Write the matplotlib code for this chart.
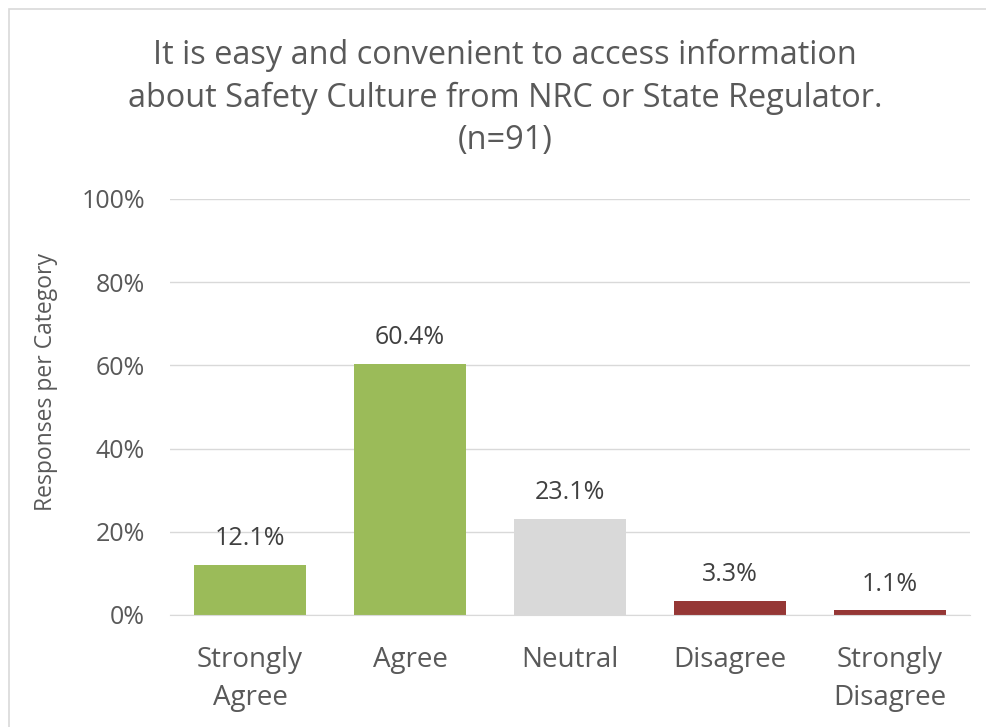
import matplotlib.pyplot as plt
from matplotlib.patches import Rectangle

categories = ['Strongly\nAgree', 'Agree', 'Neutral', 'Disagree', 'Strongly\nDisagree']
shares = [12.1, 60.4, 23.1, 3.3, 1.1]
bar_colors = ['#9BBB59', '#9BBB59', '#D9D9D9', '#953735', '#953735']
yticks = [0, 20, 40, 60, 80, 100]

text_color = '#595959'
plt.rcParams['font.family'] = ['Open Sans', 'DejaVu Sans']

fig = plt.figure(figsize=(9.86, 7.27), dpi=100)
ax = fig.add_axes([170 / 986, 112 / 727, 800 / 986, 416 / 727])

x = range(len(categories))
ax.bar(x, shares, width=0.706, color=bar_colors, zorder=2)

# value labels above each bar
for i, v in enumerate(shares):
    ax.annotate(f'{v:.1f}%', (i, v), xytext=(0, 10), textcoords='offset points',
                ha='center', va='bottom', fontsize=18, color='#404040')

ax.set_xlim(-0.5, len(categories) - 0.5)
ax.set_ylim(0, 100)
ax.set_yticks(yticks)
ax.set_yticklabels([f'{t}%' for t in yticks])
ax.set_xticks(list(x))
ax.set_xticklabels(categories, fontsize=20, color=text_color, linespacing=1.5)
ax.tick_params(axis='y', labelsize=18, labelcolor=text_color, length=0, pad=18)
ax.tick_params(axis='x', length=0, pad=22)
ax.yaxis.grid(True, color='#D9D9D9', linewidth=1, zorder=0)
for side in ['top', 'right', 'left']:
    ax.spines[side].set_visible(False)
ax.spines['bottom'].set_color('#D9D9D9')

ax.set_ylabel('Responses per Category', fontsize=16.5, color=text_color)
ax.yaxis.set_label_coords(-0.14, 0.56)

fig.text(505 / 986, 1 - 98 / 727,
         'It is easy and convenient to access information\n'
         'about Safety Culture from NRC or State Regulator.\n(n=91)',
         ha='center', va='center', fontsize=23.4, color=text_color, linespacing=1.38)

# chart frame
fig.patches.append(Rectangle((9 / 986, -0.1), 1.2, 1 - 9 / 727 + 0.1,
                             transform=fig.transFigure, fill=False,
                             edgecolor='#D9D9D9', linewidth=1.2))

fig.savefig('out.png', dpi=100)
